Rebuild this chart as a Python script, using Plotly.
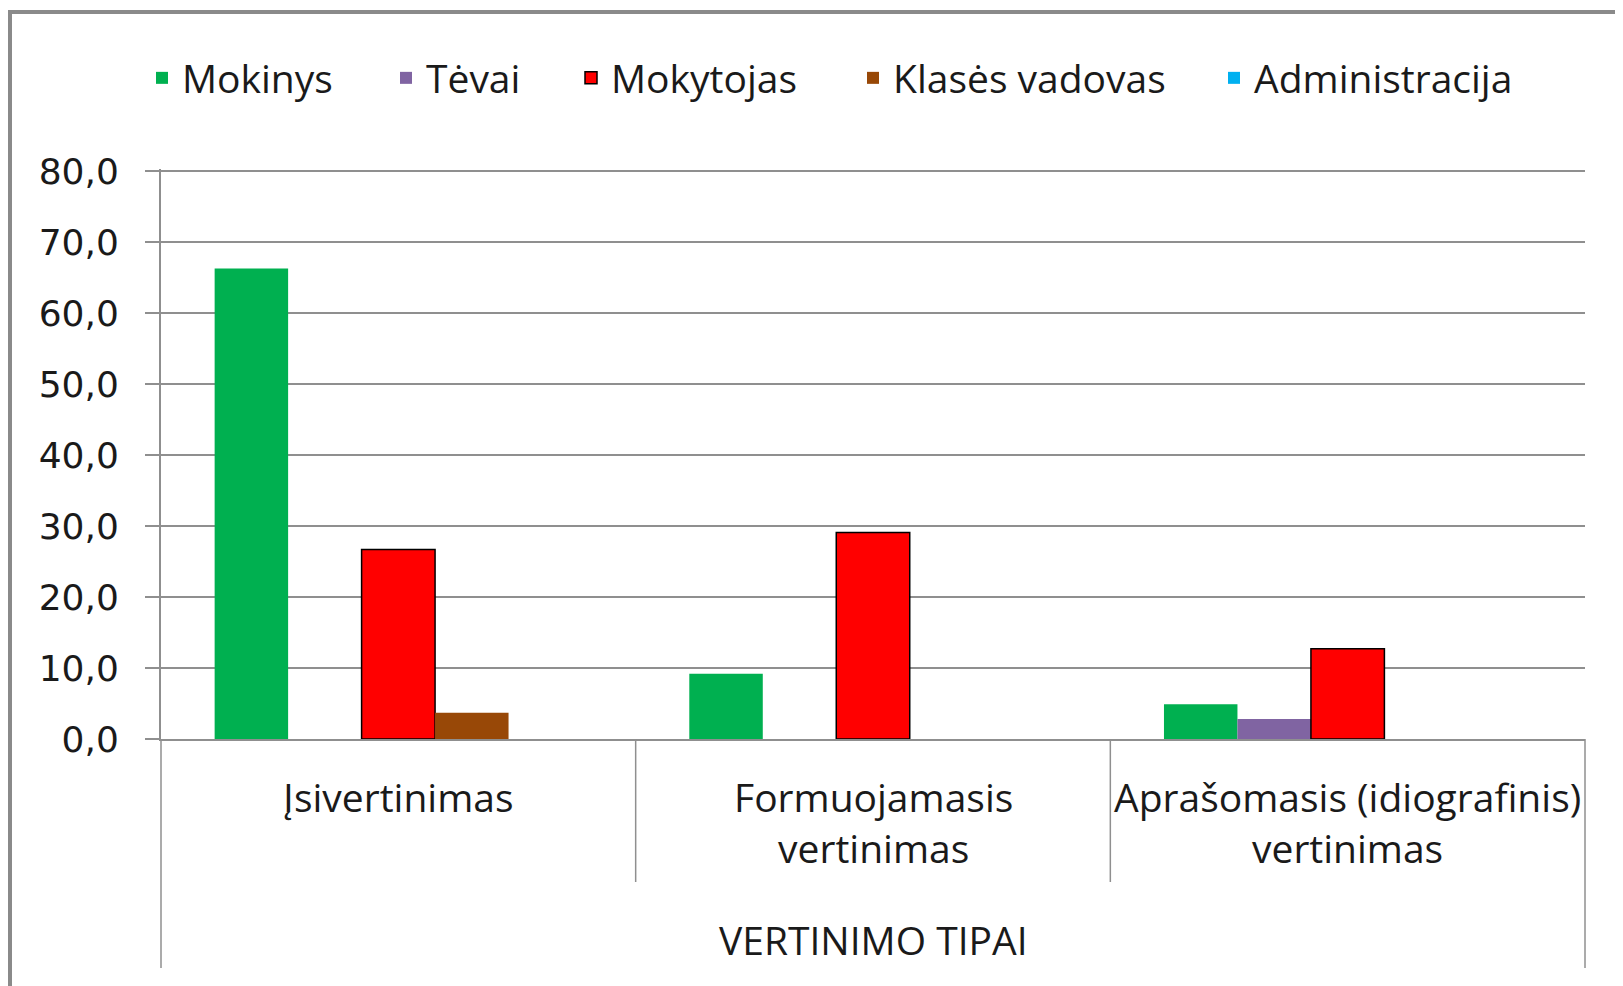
import plotly.graph_objects as go

categories = ["Įsivertinimas", "Formuojamasis<br>vertinimas", "Aprašomasis (idiografinis)<br>vertinimas"]
series_names = ["Mokinys", "Tėvai", "Mokytojas", "Klasės vadovas", "Administracija"]
mokinys = [66.3, 9.2, 4.9]
tevai = [0.0, 0.0, 2.8]
mokytojas = [26.7, 29.1, 12.7]
klases_vadovas = [3.7, 0.0, 0.0]
administracija = [0.0, 0.0, 0.0]
y_ticks = [0, 10, 20, 30, 40, 50, 60, 70, 80]
axis_title = "VERTINIMO TIPAI"

colors = ["#00B050", "#8064A2", "#FF0000", "#984807", "#00B0F0"]
values = [mokinys, tevai, mokytojas, klases_vadovas, administracija]
line_w = [0, 0, 1.5, 0, 0]

OFF = 8  # page body margin in the browser
W, H = 1623, 986
L, R, T, B = 153, 46, 161, 255
PW, PH = W - L - R, H - T - B

def px(x):  # screen x -> paper
    return (x - OFF - L) / PW

def py(y):  # screen y -> paper
    return (H - B - (y - OFF)) / PH

legend_text_x = [184, 428, 613, 895, 1256]
legend_ids = ["legend", "legend2", "legend3", "legend4", "legend5"]

fig = go.Figure()
for name, vals, c, lw, lid in zip(series_names, values, colors, line_w, legend_ids):
    fig.add_trace(go.Bar(
        name=name, x=list(range(len(categories))), y=vals, legend=lid,
        marker=dict(color=c, line=dict(color="#000000", width=lw)),
    ))

grid = "#8f8f8f"
text_color = "#1a1a1a"
font_fam = "Open Sans"
fsize = 39

shapes = []
shapes.append(dict(type="rect", xref="paper", yref="paper",
                   x0=px(10), x1=px(1680), y0=py(1030), y1=py(12),
                   line=dict(color="#8a8a8a", width=4), fillcolor="rgba(0,0,0,0)", layer="below"))
n = len(categories)
for i in range(n + 1):
    bottom = 968 if i in (0, n) else 882
    shapes.append(dict(type="line", xref="paper", yref="paper",
                       x0=i / n, x1=i / n, y0=0, y1=py(bottom),
                       line=dict(color=grid, width=1.5)))

annotations = []
for i, cat in enumerate(categories):
    annotations.append(dict(x=i, xref="x", y=py(768), yref="paper", text=cat,
                            showarrow=False, yanchor="top", xanchor="center",
                            font=dict(family=font_fam, size=fsize, color=text_color)))
annotations.append(dict(x=0.5, xref="paper", y=py(939), yref="paper", text=axis_title,
                        showarrow=False, yanchor="middle", xanchor="center",
                        font=dict(family=font_fam, size=fsize, color=text_color)))

legend_common = dict(orientation="h", xanchor="left", yanchor="middle", y=py(78),
                     font=dict(family=font_fam, size=fsize, color=text_color),
                     bgcolor="rgba(0,0,0,0)", itemwidth=30)
layout_legends = {}
for lid, tx in zip(legend_ids, legend_text_x):
    layout_legends[lid] = dict(legend_common, x=px(tx - 42))

fig.update_layout(
    width=W, height=H,
    margin=dict(l=L, r=R, t=T, b=B, autoexpand=False),
    paper_bgcolor="white", plot_bgcolor="white",
    barmode="group", bargap=0.226, bargroupgap=0,
    separators=", ",
    showlegend=True,
    shapes=shapes, annotations=annotations,
    xaxis=dict(range=[-0.5, n - 0.5], showticklabels=False, showgrid=False,
               showline=True, linecolor=grid, linewidth=2, ticks="", zeroline=False),
    yaxis=dict(range=[0, 80.3], tickvals=y_ticks, tickformat=".1f",
               showgrid=True, gridcolor=grid, gridwidth=2,
               showline=True, linecolor=grid, linewidth=2,
               ticks="outside", ticklen=14, tickcolor=grid, tickwidth=2,
               ticklabelstandoff=19, zeroline=False,
               tickfont=dict(family="DejaVu Sans", size=36, color=text_color)),
    **layout_legends,
)

fig.write_html("out.html")
